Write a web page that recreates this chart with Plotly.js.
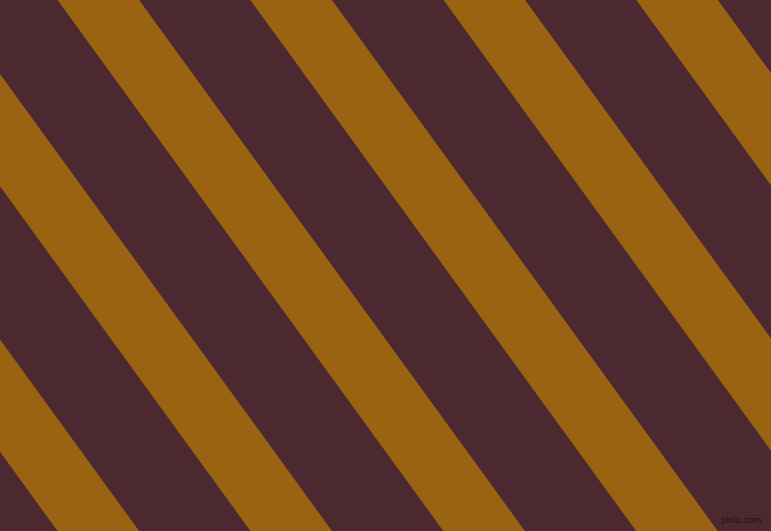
<!DOCTYPE html>
<html>
<head>
<meta charset="utf-8">
<script src="https://cdn.plot.ly/plotly-3.0.1.min.js"></script>
<style>html,body{margin:0;padding:0;background:#4c2930;}#chart{width:771px;height:531px;}</style>
</head>
<body>
<div id="chart"></div>
<script>
// Gold stripe left-edge positions along the top edge (x at y=0)
var stripeStarts = [-328.3, -135.4, 57.5, 250.3, 443.5, 636.3];
// Horizontal width of each gold stripe
var stripeWidths = [81.6, 81.6, 81.6, 81.6, 81.6, 81.6];
// Horizontal shift per unit of y (down-right)
var stripeSlope = 0.7266;
var imgW = 771, imgH = 531;
var maroon = '#4c2930';
var gold = '#996312';

var traces = stripeStarts.map(function (a, i) {
  var w = stripeWidths[i];
  var dx = stripeSlope * imgH;
  return {
    type: 'scatter',
    mode: 'lines',
    x: [a, a + w, a + w + dx, a + dx, a],
    y: [0, 0, imgH, imgH, 0],
    fill: 'toself',
    fillcolor: gold,
    line: {width: 0, color: gold},
    hoverinfo: 'skip',
    showlegend: false
  };
});

var layout = {
  width: imgW,
  height: imgH,
  margin: {l: 0, r: 0, t: 0, b: 0, pad: 0},
  paper_bgcolor: maroon,
  plot_bgcolor: maroon,
  xaxis: {range: [0, imgW], visible: false, fixedrange: true},
  yaxis: {range: [imgH, 0], visible: false, fixedrange: true},
  annotations: [{
    x: 763, y: 520, xref: 'x', yref: 'y',
    xanchor: 'right', yanchor: 'middle',
    text: 'pixlis.com', showarrow: false,
    font: {family: 'DejaVu Sans', size: 8, color: '#1a1010'}
  }]
};

Plotly.newPlot('chart', traces, layout, {staticPlot: true, displayModeBar: false});
</script>
</body>
</html>
